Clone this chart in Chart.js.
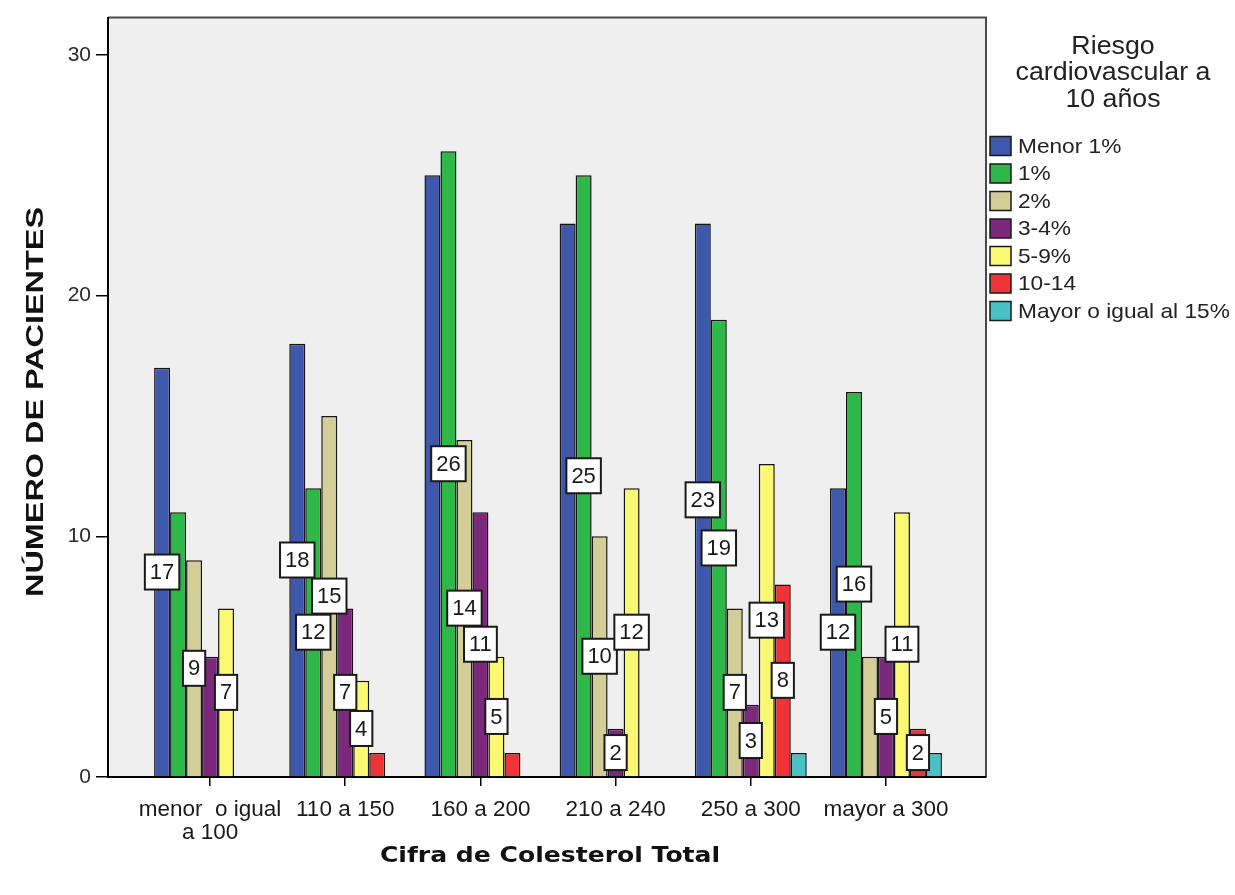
<!DOCTYPE html>
<html>
<head>
<meta charset="utf-8">
<script src="https://cdn.jsdelivr.net/npm/chart.js@4.4.1/dist/chart.umd.min.js"></script>
<style>
  html, body { margin: 0; padding: 0; background: #ffffff; }
  #wrap { width: 1235px; height: 895px; position: relative; }
</style>
</head>
<body>
<div id="wrap"><canvas id="chart" width="1235" height="895"></canvas></div>
<script>
// Cholesterol ranges (x categories)
const categories = [['menor  o igual', 'a 100'], '110 a 150', '160 a 200', '210 a 240', '250 a 300', 'mayor a 300'];

// 10-year cardiovascular risk groups
const seriesNames = ['Menor 1%', '1%', '2%', '3-4%', '5-9%', '10-14', 'Mayor o igual al 15%'];
const seriesColors = ['#3e58ac', '#2eb848', '#d3ce97', '#7c287d', '#fbf873', '#ef3338', '#48c2c5'];

// Patient counts per cholesterol range
const menor1 = [17, 18, 25, 23, 23, 12];
const uno = [11, 12, 26, 25, 19, 16];
const dos = [9, 15, 14, 10, 7, 5];
const tres4 = [5, 7, 11, 2, 3, 5];
const cinco9 = [7, 4, 5, 12, 13, 11];
const diez14 = [0, 1, 1, 0, 8, 2];
const mayor15 = [0, 0, 0, 0, 1, 1];

// Bars that carry a value box (1 = boxed)
const boxMenor1 = [1, 1, 0, 0, 1, 1];
const boxUno = [0, 1, 1, 1, 1, 1];
const boxDos = [1, 1, 1, 1, 1, 0];
const boxTres4 = [0, 1, 1, 1, 1, 1];
const boxCinco9 = [1, 1, 1, 1, 1, 1];
const boxDiez14 = [0, 0, 0, 0, 1, 1];
const boxMayor15 = [0, 0, 0, 0, 0, 0];

const yTicks = [0, 10, 20, 30];
const yTitle = 'NÚMERO DE PACIENTES';
const xTitle = 'Cifra de Colesterol Total';
const legendTitle = ['Riesgo', 'cardiovascular a', '10 años'];

const seriesValues = [menor1, uno, dos, tres4, cinco9, diez14, mayor15];
const seriesBoxes = [boxMenor1, boxUno, boxDos, boxTres4, boxCinco9, boxDiez14, boxMayor15];

const FONT = "'Liberation Sans', Arial, sans-serif";

const datasets = seriesNames.map((name, s) => ({
  label: name,
  data: seriesValues[s].map((v, i) => ({ x: i, y: v > 0 ? v : null })),
  backgroundColor: seriesColors[s],
  borderColor: '#151515',
  borderWidth: 1.5,
  borderSkipped: 'start',
  categoryPercentage: 0.828,
  barPercentage: 1
}));

function stretchedText(ctx, text, x, y, sx, align) {
  ctx.save();
  ctx.translate(x, y);
  ctx.scale(sx, 1);
  ctx.textAlign = align || 'center';
  ctx.fillText(text, 0, 0);
  ctx.restore();
}

// Plot background and the frame on the top and right sides
const plotFrame = {
  id: 'plotFrame',
  beforeDraw(chart) {
    const { ctx, chartArea: a } = chart;
    ctx.save();
    ctx.fillStyle = '#ffffff';
    ctx.fillRect(0, 0, chart.width, chart.height);
    ctx.fillStyle = '#efefef';
    ctx.fillRect(a.left, a.top, a.right - a.left, a.bottom - a.top);
    ctx.strokeStyle = '#4a4a4a';
    ctx.lineWidth = 2;
    ctx.beginPath();
    ctx.moveTo(a.left, a.top);
    ctx.lineTo(a.right, a.top);
    ctx.lineTo(a.right, a.bottom);
    ctx.stroke();
    ctx.restore();
  }
};

// White value boxes centred halfway up each boxed bar
const valueBoxes = {
  id: 'valueBoxes',
  afterDatasetsDraw(chart) {
    const ctx = chart.ctx;
    ctx.save();
    ctx.font = '22px ' + FONT;
    ctx.textAlign = 'center';
    ctx.textBaseline = 'middle';
    chart.data.datasets.forEach((ds, s) => {
      const meta = chart.getDatasetMeta(s);
      seriesValues[s].forEach((v, i) => {
        if (!seriesBoxes[s][i] || !(v > 0)) return;
        const el = meta.data[i];
        const cx = el.x;
        const cy = (el.y + el.base) / 2;
        const txt = String(v);
        const w = ctx.measureText(txt).width + 10;
        const h = 35;
        ctx.fillStyle = '#ffffff';
        ctx.fillRect(cx - w / 2, cy - h / 2, w, h);
        ctx.strokeStyle = '#1a1a1a';
        ctx.lineWidth = 2;
        ctx.strokeRect(cx - w / 2, cy - h / 2, w, h);
        ctx.fillStyle = '#1a1a1a';
        ctx.fillText(txt, cx, cy + 1);
      });
    });
    ctx.restore();
  }
};

// Axis titles and the legend at the right
const titlesAndLegend = {
  id: 'titlesAndLegend',
  afterDraw(chart) {
    const ctx = chart.ctx;
    const a = chart.chartArea;
    ctx.save();
    ctx.fillStyle = '#111111';
    ctx.textBaseline = 'middle';

    // y title, rotated
    ctx.font = 'bold 24px ' + FONT;
    ctx.save();
    ctx.translate(36, 402);
    ctx.rotate(-Math.PI / 2);
    stretchedText(ctx, yTitle, 0, 0, 1.35, 'center');
    ctx.restore();

    // x title
    ctx.font = "bold 22px 'DejaVu Sans', Verdana, sans-serif";
    stretchedText(ctx, xTitle, (a.left + a.right) / 2 + 3, 856, 1.14, 'center');

    // legend title
    ctx.fillStyle = '#222222';
    ctx.font = '25px ' + FONT;
    legendTitle.forEach((line, k) => {
      stretchedText(ctx, line, 1113, 47 + k * 26.5, 1.07, 'center');
    });

    // legend entries
    ctx.font = '21px ' + FONT;
    seriesNames.forEach((name, s) => {
      const cy = 146 + s * 27.5;
      ctx.fillStyle = seriesColors[s];
      ctx.fillRect(990, cy - 9.5, 21, 19);
      ctx.strokeStyle = '#1a1a1a';
      ctx.lineWidth = 1.5;
      ctx.strokeRect(990, cy - 9.5, 21, 19);
      ctx.fillStyle = '#222222';
      stretchedText(ctx, name, 1018, cy + 1, 1.08, 'left');
    });
    ctx.restore();
  }
};

new Chart(document.getElementById('chart'), {
  type: 'bar',
  data: { datasets },
  options: {
    responsive: false,
    animation: false,
    layout: { padding: { left: 0, right: 249, top: 15, bottom: 0 } },
    plugins: { legend: { display: false }, tooltip: { enabled: false } },
    scales: {
      x: {
        type: 'linear',
        min: -0.755,
        max: 5.74,
        offset: false,
        afterBuildTicks: (scale) => { scale.ticks = categories.map((c, i) => ({ value: i })); },
        afterFit: (scale) => { scale.height = 118; },
        ticks: {
          callback: (v) => categories[v],
          font: { family: FONT, size: 22.5, lineHeight: 1.0 },
          color: '#1a1a1a',
          padding: 13,
          autoSkip: false,
          maxRotation: 0,
          minRotation: 0
        },
        grid: { offset: false, drawOnChartArea: false, drawTicks: true, tickLength: 9, color: '#000000', lineWidth: 1.5 },
        border: { display: true, color: '#000000', width: 2 }
      },
      y: {
        min: 0,
        max: 31.55,
        afterBuildTicks: (scale) => { scale.ticks = yTicks.map((v) => ({ value: v })); },
        afterFit: (scale) => { scale.width = 108; },
        ticks: {
          font: { family: FONT, size: 21 },
          color: '#2a2a2a',
          padding: 5
        },
        grid: { drawOnChartArea: false, drawTicks: true, tickLength: 12, color: '#000000', lineWidth: 1.5 },
        border: { display: true, color: '#000000', width: 2 }
      }
    }
  },
  plugins: [plotFrame, valueBoxes, titlesAndLegend]
});
</script>
</body>
</html>
